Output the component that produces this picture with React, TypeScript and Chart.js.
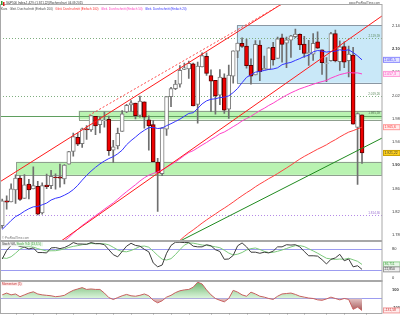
import React, { useEffect, useRef } from 'react';
import { Chart, registerables } from 'chart.js';
Chart.register(...registerables);

const FONT = "'Liberation Sans', Arial, sans-serif";

// ---- categories: weekly candles starting week of 10.02.2014 ----
const SLOT_COUNT = 86;
const firstWeek = Date.UTC(2014, 1, 10);
const weeks: string[] = Array.from({ length: SLOT_COUNT }, (_, i) =>
  new Date(firstWeek + i * 7 * 86400000).toISOString().slice(0, 10)
);
const monthTickWeeks = [3, 7, 12, 16, 21, 25, 29, 34, 38, 42, 47, 51, 55, 60, 64, 68, 73, 77, 82];
const monthTickLabels = ['Mar', 'Apr', 'May', 'Jun', 'Jul', 'Aug', 'Sep', 'Oct', 'Nov', 'Dec', '2015', 'Feb', 'Mar', 'Apr', 'May', 'Jun', 'Jul', 'Aug', 'Sep'];

// ---- price data (weekly OHLC) ----
const open = [1796.2, 1838.8, 1836.8, 1857.7, 1878.0, 1842.8, 1867.7, 1859.2, 1863.9, 1818.2,
  1865.8, 1865.0, 1879.5, 1880.0, 1876.7, 1902.0, 1923.9, 1948.1, 1937.2, 1962.9,
  1960.8, 1984.2, 1969.9, 1976.9, 1979.0, 1926.0, 1933.4, 1958.4, 1991.7, 2004.1,
  2007.2, 1986.0, 2009.1, 1978.2, 1970.0, 1905.7, 1885.6, 1962.0, 2018.2, 2032.0,
  2039.7, 2065.1, 2065.8, 2074.8, 2005.0, 2069.3, 2087.6, 2054.4, 2046.1, 2020.8,
  2050.4, 1996.7, 2053.5, 2096.5, 2109.8, 2105.2, 2072.3, 2055.4, 2107.0, 2064.1,
  2064.9, 2102.9, 2084.1, 2119.3, 2110.2, 2115.6, 2121.3, 2125.3, 2108.6, 2092.3,
  2091.3, 2112.5, 2098.6, 2075.4, 2080.0, 2126.8, 2078.2, 2104.5, 2080.0, 2089.7,
  1965.2, 1986.7];
const high = [1841.7, 1847.5, 1867.9, 1883.6, 1882.4, 1883.9, 1875.9, 1897.3, 1872.5, 1869.6,
  1884.9, 1891.3, 1885.2, 1902.2, 1901.3, 1924.0, 1955.6, 1955.6, 1963.9, 1968.2,
  1985.6, 1984.2, 1983.9, 1991.4, 1984.9, 1942.9, 1964.0, 1994.0, 2005.0, 2011.2,
  2007.2, 2019.3, 2009.1, 1985.2, 1977.4, 1912.1, 1965.3, 2018.2, 2034.3, 2046.2,
  2071.5, 2075.8, 2079.5, 2075.8, 2077.9, 2093.6, 2093.6, 2064.4, 2046.1, 2064.6,
  2057.6, 2072.4, 2097.0, 2110.6, 2119.6, 2117.5, 2083.5, 2114.9, 2114.9, 2088.2,
  2102.6, 2111.9, 2120.9, 2125.9, 2120.9, 2123.9, 2134.7, 2126.2, 2121.9, 2115.0,
  2126.6, 2129.9, 2098.6, 2085.6, 2129.0, 2132.8, 2114.2, 2112.7, 2105.3, 2102.9,
  1990.3, 1986.7];
const low = [1791.8, 1824.6, 1836.8, 1834.4, 1839.6, 1842.8, 1842.1, 1859.2, 1814.4, 1815.8,
  1859.7, 1859.8, 1859.0, 1862.4, 1868.1, 1902.0, 1915.9, 1933.6, 1930.9, 1944.7,
  1958.2, 1952.9, 1955.6, 1965.8, 1916.8, 1904.8, 1928.3, 1958.4, 1990.5, 1993.0,
  1980.0, 1982.9, 1964.0, 1926.0, 1906.1, 1820.7, 1882.3, 1951.4, 2001.0, 2030.4,
  2034.5, 2064.8, 2049.6, 2002.3, 1972.6, 2069.3, 2054.7, 1992.4, 1988.1, 2004.5,
  1989.2, 1980.9, 2041.3, 2085.4, 2103.1, 2067.3, 2039.7, 2055.4, 2045.5, 2064.1,
  2064.9, 2072.4, 2083.8, 2077.5, 2067.9, 2085.7, 2119.6, 2099.2, 2085.7, 2072.1,
  2080.7, 2101.3, 2056.6, 2044.0, 2079.1, 2077.9, 2063.5, 2067.9, 2052.1, 1970.9,
  1867.0, 1903.1];
const close = [1838.6, 1836.3, 1859.5, 1878.0, 1841.1, 1866.5, 1857.6, 1865.1, 1815.7, 1864.9,
  1863.4, 1881.1, 1878.5, 1877.9, 1900.5, 1923.6, 1949.4, 1936.2, 1962.9, 1960.9,
  1985.4, 1967.6, 1978.2, 1978.3, 1925.2, 1931.6, 1955.1, 1988.4, 2003.4, 2007.7,
  1985.5, 2010.4, 1982.9, 1967.9, 1906.1, 1886.8, 1964.6, 2018.1, 2031.9, 2039.8,
  2063.5, 2067.6, 2075.4, 2002.3, 2070.7, 2088.8, 2058.2, 2044.8, 2019.4, 2051.8,
  1995.0, 2055.5, 2097.0, 2110.3, 2104.5, 2071.3, 2053.4, 2108.1, 2061.0, 2067.0,
  2102.1, 2081.2, 2117.7, 2108.3, 2116.1, 2122.7, 2126.1, 2107.4, 2092.8, 2094.1,
  2110.0, 2101.5, 2076.8, 2076.6, 2126.6, 2079.7, 2103.8, 2077.6, 2091.5, 1970.9,
  1988.9, 1921.22];

// ---- moving averages (weekly) ----
const sma20 = [1789.8, 1797.1, 1804.9, 1811.6, 1815.7, 1820.9, 1825.2, 1828.5, 1829.0, 1832.0,
  1834.9, 1840.2, 1843.2, 1845.0, 1848.5, 1852.6, 1858.1, 1865.4, 1874.4, 1882.6,
  1889.9, 1896.5, 1902.4, 1907.4, 1911.6, 1914.9, 1919.8, 1926.0, 1935.4, 1942.5,
  1948.6, 1955.1, 1960.3, 1964.8, 1965.1, 1963.3, 1964.1, 1968.2, 1971.6, 1975.5,
  1979.4, 1984.4, 1989.3, 1990.5, 1997.8, 2005.7, 2010.9, 2013.7, 2014.5, 2016.7,
  2017.2, 2019.5, 2025.2, 2032.3, 2042.2, 2051.4, 2055.8, 2060.3, 2061.8, 2063.2,
  2065.1, 2065.8, 2067.9, 2073.2, 2075.5, 2077.2, 2080.6, 2083.7, 2087.4, 2089.5,
  2095.3, 2097.6, 2096.6, 2094.9, 2096.0, 2096.4, 2098.9, 2097.4, 2098.9, 2094.1,
  2088.4, 2081.5];
const sma50 = [1695.3, 1701.0, 1707.0, 1713.4, 1718.8, 1725.1, 1730.5, 1736.7, 1741.4, 1746.4,
  1751.0, 1755.3, 1759.9, 1764.8, 1770.0, 1776.0, 1783.1, 1789.7, 1796.3, 1801.9,
  1807.8, 1813.3, 1818.7, 1824.4, 1829.8, 1835.2, 1841.6, 1848.3, 1854.6, 1860.6,
  1866.5, 1872.9, 1878.5, 1883.0, 1885.9, 1888.4, 1892.3, 1896.7, 1901.2, 1905.9,
  1911.1, 1916.9, 1922.0, 1925.2, 1930.0, 1934.9, 1939.3, 1944.4, 1949.1, 1954.2,
  1957.3, 1961.7, 1966.5, 1971.1, 1976.4, 1980.5, 1984.4, 1989.3, 1994.2, 1998.2,
  2003.0, 2007.0, 2011.8, 2016.4, 2020.7, 2024.7, 2028.2, 2031.6, 2034.2, 2036.9,
  2039.4, 2042.1, 2044.1, 2046.1, 2050.1, 2053.1, 2056.1, 2057.9, 2059.7, 2059.0,
  2059.1, 2057.3];
const sma100 = [null, null, null, null, null, null, null, null, null, null,
  null, null, null, null, null, null, null, null, null, null,
  null, null, null, null, null, null, null, null, null, null,
  null, null, null, null, null, null, null, null, 1758.1, 1764.4,
  1770.7, 1777.4, 1783.5, 1788.8, 1794.6, 1800.5, 1805.9, 1811.2, 1816.2, 1821.5,
  1826.3, 1831.4, 1836.7, 1842.3, 1847.6, 1852.8, 1857.5, 1863.0, 1867.8, 1872.3,
  1877.0, 1881.1, 1885.8, 1890.6, 1895.4, 1900.3, 1905.7, 1910.7, 1915.3, 1919.4,
  1923.6, 1927.7, 1931.4, 1935.3, 1940.0, 1944.1, 1948.8, 1953.1, 1957.1, 1959.7,
  1962.7, 1965.6];

// ---- indicators ----
const stochK = [52, 76, 90, 92, 87, 85, 80, 83, 70, 70,
  69, 83, 84, 81, 84, 90, 98, 94, 94, 93,
  98, 95, 95, 92, 78, 64, 58, 73, 88, 96,
  90, 88, 79, 72, 41, 30, 35, 68, 90, 99,
  99, 98, 98, 88, 86, 86, 92, 89, 78, 73,
  51, 52, 62, 89, 97, 86, 71, 71, 68, 71,
  69, 74, 86, 86, 92, 91, 92, 86, 73, 61,
  61, 60, 50, 38, 51, 55, 65, 47, 52, 30,
  33, 22.85];
const stochD = [55.2, 53.6, 58.2, 68.2, 79.4, 86, 86.8, 85.4, 81, 77.6,
  74.4, 75, 75.2, 77.4, 80.2, 84.4, 87.4, 89.4, 92, 93.8,
  95.4, 94.8, 95, 94.6, 91.6, 84.8, 77.4, 73, 72.2, 75.8,
  81, 87, 88.2, 85, 74, 62, 51.4, 49.2, 52.8, 64.4,
  78.2, 90.8, 96.8, 96.4, 93.8, 91.2, 90, 88.2, 86.2, 83.6,
  76.6, 68.6, 63.2, 65.4, 70.2, 77.2, 81, 82.8, 78.6, 73.4,
  70, 70.6, 73.6, 77.2, 81.4, 85.8, 89.4, 89.4, 86.8, 80.6,
  74.6, 68.2, 61, 54, 52, 50.8, 51.8, 51.2, 54, 49.8,
  45.4, 36.711];
const momentum = [40, 60, 40, 50, 20, 40, 60, 74, 50, 40,
  35, 30, 20, 25, 35, 65, 90, 105, 120, 100,
  105, 100, 100, 60, 10, -11, 10, 30, 45, 30,
  25, 35, 50, 30, -20, -48, -25, 15, 35, 65,
  85, 95, 100, 125, 180, 160, 95, 40, 0, -20,
  -37, 0, 90, 70, 40, 25, 70, 50, 25, 15,
  0, -10, 25, 50, 55, 60, 45, 25, 15, 5,
  0, -15, -20, -5, 15, 0, -15, 0, -10, -120,
  -95, -131.58];

// ---- axis ticks ----
const priceTicks = [1780, 1800, 1820, 1840, 1860, 1880, 1900, 1920, 1940, 1960, 1980, 2000, 2020, 2040, 2060, 2080, 2100, 2120, 2140, 2160];
const stochTicks = [0, 50, 80, 100];
const stochBands = [20, 80];
const momTicks = [-100, 0, 100, 200];

// ---- analysis levels / zones / trend lines (week index, price) ----
const dottedLevels = [2119.59, 2019.26];
const supportLevel = [1814.36];
const bandLine = [1985.59];
const blueZone = [52.8, 2042, 2141];
const greenZoneHigh = [17.2, 1979, 1994];
const greenZoneLow = [3.2, 1883.5, 1906];
const upperChannel = [[0, 1874], [58, 2154]];
const upperChannelDotted = [[19.5, 1985.8], [58, 2155.6]];
const lowerChannel = [[16.5, 1787], [79.7, 2126]];
const greenTrend = [[44.5, 1787], [81, 1929.3]];

const de = (v: number, d = 0) => v.toLocaleString('de-DE', { minimumFractionDigits: d, maximumFractionDigits: d });

const overlay = {
  id: 'overlay',
  beforeDatasetsDraw(chart: any) {
    const { ctx } = chart;
    const x = chart.scales.x, y = chart.scales.y, y2 = chart.scales.y2, y3 = chart.scales.y3;
    const L = x.left, R = x.right;
    ctx.save();
    ctx.beginPath();
    ctx.rect(L, y.top, R - L, y.bottom - y.top);
    ctx.clip();
    const zone = (z: number[], fill: string, stroke: string) => {
      const x0 = x.getPixelForValue(z[0]);
      const yt = y.getPixelForValue(z[2]), yb = y.getPixelForValue(z[1]);
      ctx.fillStyle = fill;
      ctx.fillRect(x0, yt, R - x0, yb - yt);
      ctx.strokeStyle = stroke;
      ctx.lineWidth = 1;
      ctx.strokeRect(Math.round(x0) + 0.5, Math.round(yt) + 0.5, R - x0, Math.round(yb - yt));
    };
    zone(blueZone, '#c9e8f8', '#8a97a3');
    zone(greenZoneLow, '#b9f3b1', '#8fa08f');
    zone(greenZoneHigh, '#b9f3b1', '#8fa08f');
    const hline = (p: number, color: string, dash: number[]) => {
      const yy = Math.round(y.getPixelForValue(p)) + 0.5;
      ctx.strokeStyle = color;
      ctx.setLineDash(dash);
      ctx.beginPath();
      ctx.moveTo(L, yy);
      ctx.lineTo(R, yy);
      ctx.stroke();
      ctx.setLineDash([]);
    };
    dottedLevels.forEach((p) => hline(p, '#7fae7f', [1, 2]));
    supportLevel.forEach((p) => hline(p, '#b58ae6', [1, 2]));
    bandLine.forEach((p) => hline(p, '#5f9f5f', []));
    ctx.restore();

    // indicator reference lines
    ctx.save();
    ctx.strokeStyle = '#9c9cf0';
    ctx.lineWidth = 1;
    stochBands.forEach((v) => {
      const yy = Math.round(y2.getPixelForValue(v)) + 0.5;
      ctx.beginPath(); ctx.moveTo(L, yy); ctx.lineTo(R, yy); ctx.stroke();
    });
    const y0 = Math.round(y3.getPixelForValue(0)) + 0.5;
    ctx.beginPath(); ctx.moveTo(L, y0); ctx.lineTo(R, y0); ctx.stroke();
    ctx.restore();
  },
  afterDatasetsDraw(chart: any) {
    const { ctx } = chart;
    const x = chart.scales.x, y = chart.scales.y;
    const L = x.left, R = x.right;
    ctx.save();
    ctx.beginPath();
    ctx.rect(L, y.top, R - L, y.bottom - y.top);
    ctx.clip();
    const tline = (pts: number[][], extendLeft: boolean, color: string, dash: number[]) => {
      const x1 = x.getPixelForValue(pts[0][0]), y1 = y.getPixelForValue(pts[0][1]);
      const x2 = x.getPixelForValue(pts[1][0]), yy2 = y.getPixelForValue(pts[1][1]);
      const s = (yy2 - y1) / (x2 - x1);
      const xs = extendLeft ? L : x1;
      ctx.strokeStyle = color;
      ctx.lineWidth = 1;
      ctx.setLineDash(dash);
      ctx.beginPath();
      ctx.moveTo(xs, y1 + s * (xs - x1));
      ctx.lineTo(R, y1 + s * (R - x1));
      ctx.stroke();
      ctx.setLineDash([]);
    };
    tline(upperChannel, true, '#ff1a1a', []);
    tline(upperChannelDotted, false, '#ff4a4a', [2, 2]);
    tline(lowerChannel, true, '#ff1a1a', []);
    tline(greenTrend, true, '#1f8a1f', []);
    ctx.restore();
  },
  afterDraw(chart: any) {
    const { ctx } = chart;
    const x = chart.scales.x, y = chart.scales.y, y2 = chart.scales.y2, y3 = chart.scales.y3;
    const L = x.left, R = x.right;
    ctx.save();
    // panel frames
    ctx.strokeStyle = '#a8a8a8';
    ctx.lineWidth = 1;
    [y, y2, y3].forEach((s) => {
      ctx.strokeRect(L + 0.5, Math.round(s.top) + 0.5, R - L - 0.5, Math.round(s.bottom - s.top));
    });
    // small month tick marks
    ctx.strokeStyle = '#999';
    monthTickWeeks.forEach((w) => {
      const xx = Math.round(x.getPixelForValue(w)) + 0.5;
      ctx.beginPath(); ctx.moveTo(xx, y3.bottom); ctx.lineTo(xx, y3.bottom + 1.5); ctx.stroke();
    });

    // level labels inside chart
    ctx.font = `3px ${FONT}`;
    ctx.textAlign = 'right';
    ctx.textBaseline = 'bottom';
    const lvlLabel = (p: number, color: string) => {
      ctx.fillStyle = color;
      ctx.fillText(de(p, 2), R - 2, y.getPixelForValue(p) - 0.5);
    };
    dottedLevels.forEach((p) => lvlLabel(p, '#5d8a5d'));
    supportLevel.forEach((p) => lvlLabel(p, '#9a6fd0'));
    bandLine.forEach((p) => lvlLabel(p, '#4f6f4f'));

    // value tags on the right axis
    const tag = (scale: any, v: number, txt: string, fg: string, bg: string, bd: string) => {
      const yy = scale.getPixelForValue(v);
      ctx.fillStyle = bg;
      ctx.fillRect(R + 1, yy - 2.5, 17, 5);
      ctx.strokeStyle = bd;
      ctx.strokeRect(R + 1.5, yy - 2.5, 16.5, 5);
      ctx.fillStyle = fg;
      ctx.font = `3.4px ${FONT}`;
      ctx.textAlign = 'left';
      ctx.textBaseline = 'middle';
      ctx.fillText(txt, R + 2.5, yy);
    };
    const n = close.length - 1;
    tag(y, sma20[n], de(sma20[n], 1), '#3232ff', '#e4e4ff', '#8a8aff');
    tag(y, sma50[n], de(sma50[n], 1), '#ff3fbf', '#ffe6f6', '#ff9ad9');
    tag(y, sma100[n] as number, de(sma100[n] as number, 1), '#ff3030', '#ffecec', '#ff9a9a');
    tag(y, close[n], de(close[n], 2), '#333', '#ffd21f', '#c9a000');
    tag(y2, stochD[n], de(stochD[n], 3), '#3a9a3a', '#e6f7e6', '#8fcf8f');
    tag(y2, stochK[n], de(stochK[n], 3), '#333', '#eeeeee', '#999');
    tag(y3, momentum[n], de(momentum[n], 2), '#d03030', '#ffecec', '#f09a9a');

    // header
    ctx.textAlign = 'left';
    ctx.textBaseline = 'middle';
    ctx.fillStyle = '#2f9a2f';
    ctx.fillRect(1, 1, 1.5, 4);
    ctx.fillStyle = '#e02020';
    ctx.fillRect(3, 2, 1.5, 4);
    ctx.font = `3px ${FONT}`;
    ctx.fillStyle = '#333';
    ctx.fillText('S&P500 Index', 6, 3.5);
    ctx.fillText('-1,42% (1.921,22)', 25, 3.5);
    ctx.fillText('Wochenchart', 49, 3.5);
    ctx.fillText('04.09.2015', 68, 3.5);
    const legend: [string, string][] = [
      ['Kurs', '#333'],
      ['Gleit. Durchschnitt (Einfach 200)', '#4a4a4a'],
      ['Gleit. Durchschnitt (Einfach 100)', '#ff3030'],
      ['Gleit. Durchschnitt (Einfach 50)', '#ff3fbf'],
      ['Gleit. Durchschnitt (Einfach 20)', '#3232ff'],
    ];
    let lx = 1;
    legend.forEach(([t, c]) => {
      ctx.fillStyle = c;
      ctx.fillText(t, lx, 9.5);
      lx += ctx.measureText(t).width + 2.5;
    });
    ctx.textAlign = 'right';
    ctx.fillStyle = '#555';
    ctx.fillText('www.ProRealTime.com', R - 2, 3.5);

    // panel captions
    ctx.textAlign = 'left';
    ctx.fillStyle = '#777';
    ctx.fillText('© ProRealTime.com', 2, y.bottom - 3);
    ctx.fillStyle = '#eeeeee';
    ctx.fillRect(1.5, y2.top + 1.5, 14, 4);
    ctx.fillStyle = '#333';
    ctx.fillText('Stoch %K', 2, y2.top + 3.5);
    ctx.fillStyle = '#e6f7e6';
    ctx.fillRect(16, y2.top + 1.5, 27, 4);
    ctx.fillStyle = '#3a9a3a';
    ctx.fillText('Stoch %D (13,3,5)', 16.5, y2.top + 3.5);
    ctx.fillStyle = '#ffecec';
    ctx.fillRect(1.5, y3.top + 1.5, 21, 4);
    ctx.fillStyle = '#c03030';
    ctx.fillText('Momentum (5)', 2, y3.top + 3.5);
    ctx.restore();
  },
};

export default function App() {
  const ref = useRef<HTMLCanvasElement>(null);
  useEffect(() => {
    const canvas = ref.current;
    if (!canvas) return;
    const up = close.map((c, i) => c >= open[i]);
    const g = canvas.getContext('2d') as CanvasRenderingContext2D;
    // momentum panel spans roughly y 280..313, zero near 298
    const gUp = g.createLinearGradient(0, 281, 0, 298);
    gUp.addColorStop(0, 'rgba(70,160,70,0.85)');
    gUp.addColorStop(1, 'rgba(200,238,200,0.7)');
    const gDown = g.createLinearGradient(0, 298, 0, 313);
    gDown.addColorStop(0, 'rgba(225,185,185,0.8)');
    gDown.addColorStop(1, 'rgba(140,40,40,0.9)');
    const tickFont = (c: any) => ({
      size: 4,
      family: FONT,
      weight: c.tick && c.tick.value % 100 === 0 && c.tick.value !== 0 ? 'bold' : 'normal',
    });
    const chart = new Chart(canvas, {
      type: 'bar',
      data: {
        labels: weeks,
        datasets: [
          {
            type: 'bar',
            data: low.map((l, i) => [l, high[i]]),
            yAxisID: 'y',
            backgroundColor: '#6f6f6f',
            barThickness: 1,
            grouped: false,
            order: 5,
            clip: 0,
          } as any,
          {
            type: 'bar',
            data: open.map((o, i) => [o, close[i]]),
            yAxisID: 'y',
            backgroundColor: up.map((u) => (u ? '#ffffff' : '#ee0000')),
            borderColor: up.map((u) => (u ? '#7a7a7a' : '#5a0000')),
            borderWidth: 1,
            borderSkipped: false,
            barThickness: 4,
            grouped: false,
            order: 4,
            clip: 0,
          } as any,
          { type: 'line', data: sma100, yAxisID: 'y', borderColor: '#ff4040', borderWidth: 1, pointRadius: 0, order: 3, clip: 0 } as any,
          { type: 'line', data: sma50, yAxisID: 'y', borderColor: '#ff40c8', borderWidth: 1, pointRadius: 0, order: 2, clip: 0 } as any,
          { type: 'line', data: sma20, yAxisID: 'y', borderColor: '#3434ff', borderWidth: 1, pointRadius: 0, order: 1, clip: 0 } as any,
          { type: 'line', data: stochD, yAxisID: 'y2', borderColor: '#7cc87c', borderWidth: 1, pointRadius: 0, order: 1, clip: 0 } as any,
          { type: 'line', data: stochK, yAxisID: 'y2', borderColor: '#3c3c3c', borderWidth: 1, pointRadius: 0, order: 0, clip: 0 } as any,
          {
            type: 'line',
            data: momentum,
            yAxisID: 'y3',
            borderColor: '#c86060',
            borderWidth: 1,
            pointRadius: 0,
            order: 0,
            clip: 0,
            fill: { target: { value: 0 }, above: gUp, below: gDown },
          } as any,
        ],
      },
      options: {
        responsive: false,
        animation: false,
        devicePixelRatio: 1,
        layout: { padding: { top: 1, left: 0, right: 0, bottom: 0 } },
        plugins: { legend: { display: false }, tooltip: { enabled: false }, title: { display: false } },
        scales: {
          x: {
            type: 'category',
            position: 'bottom',
            offset: true,
            grid: { display: false },
            border: { display: false },
            ticks: {
              autoSkip: false,
              maxRotation: 0,
              minRotation: 0,
              padding: 1,
              color: '#333',
              font: { size: 4, family: FONT },
              callback: (_v: any, i: number) => {
                const k = monthTickWeeks.indexOf(i);
                return k >= 0 ? monthTickLabels[k] : '';
              },
            },
            afterFit: (s: any) => { s.height = 7; },
          },
          y: {
            type: 'linear',
            position: 'right',
            stack: 'panels',
            stackWeight: 239,
            min: 1770,
            max: 2177,
            grid: { display: false },
            border: { display: false },
            afterBuildTicks: (s: any) => { s.ticks = priceTicks.map((v) => ({ value: v })); },
            ticks: { padding: 2, color: '#333', font: tickFont, callback: (v: any) => de(Number(v)) },
            afterFit: (s: any) => { s.width = 18; },
          },
          y2: {
            type: 'linear',
            position: 'right',
            stack: 'panels',
            stackWeight: 40,
            min: -8,
            max: 103,
            grid: { display: false },
            border: { display: false },
            afterBuildTicks: (s: any) => { s.ticks = stochTicks.map((v) => ({ value: v })); },
            ticks: { padding: 2, color: '#333', font: tickFont, callback: (v: any) => de(Number(v)) },
            afterFit: (s: any) => { s.width = 18; },
          },
          y3: {
            type: 'linear',
            position: 'right',
            stack: 'panels',
            stackWeight: 33,
            min: -160,
            max: 200,
            grid: { display: false },
            border: { display: false },
            afterBuildTicks: (s: any) => { s.ticks = momTicks.map((v) => ({ value: v })); },
            ticks: { padding: 2, color: '#333', font: tickFont, callback: (v: any) => de(Number(v)) },
            afterFit: (s: any) => { s.width = 18; },
          },
        },
      } as any,
      plugins: [overlay],
    });
    return () => chart.destroy();
  }, []);
  return (
    <div style={{ position: 'absolute', left: 0, top: 0, width: 400, height: 320, background: '#fff' }}>
      <canvas ref={ref} width={400} height={320} style={{ display: 'block', width: 400, height: 320 }} />
    </div>
  );
}
